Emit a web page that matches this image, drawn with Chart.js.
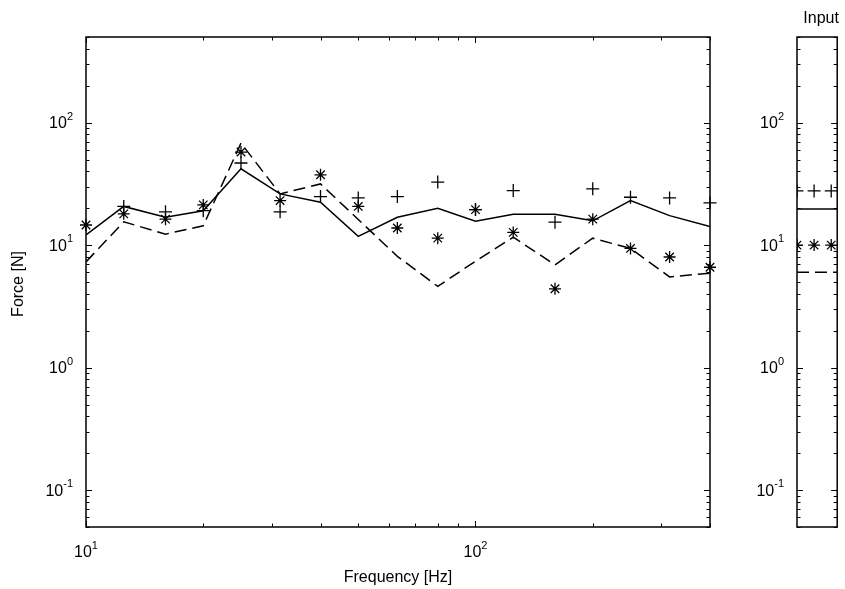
<!DOCTYPE html>
<html>
<head>
<meta charset="utf-8">
<script src="https://cdn.jsdelivr.net/npm/chart.js@4.4.1/dist/chart.umd.min.js"></script>
<style>
  html, body { margin: 0; padding: 0; background: #fff; }
  #wrap { position: relative; width: 845px; height: 589px; overflow: hidden; }
  #main { position: absolute; left: 0; top: 0; width: 760px; height: 589px; }
  #input { position: absolute; left: 720px; top: 0; width: 125px; height: 589px; }
</style>
</head>
<body>
<div id="wrap">
  <canvas id="main" width="760" height="589"></canvas>
  <canvas id="input" width="125" height="589"></canvas>
</div>
<script>
// third-octave band centres [Hz]
const freqs = [10, 12.5, 16, 20, 25, 31.5, 40, 50, 63, 80, 100, 125, 160, 200, 250, 315, 400];

// force spectra [N]
const solidForce  = [12.1, 20.7, 16.9, 19.1, 42, 26.2, 22.4, 11.8, 16.9, 20, 15.7, 17.9, 17.9, 15.8, 23.1, 17.4, 14.2];
const dashedForce = [7.3, 15.5, 12.3, 14.4, 68, 26.2, 31.6, 16.2, 8.1, 4.6, 7.4, 11.6, 6.9, 11.4, 9.4, 5.5, 5.9];
const plusForce   = [null, 20.7, 18.7, 19.1, 46.8, 18.7, 24.9, 24.3, 24.9, 32.7, 19.5, 27.9, 15.4, 28.8, 24.6, 24.3, 22.1];
const starForce   = [14.6, 18, 16.3, 21.3, 57.5, 23.1, 37.5, 20.7, 13.8, 11.4, 19.5, 12.7, 4.4, 16.3, 9.4, 8.0, 6.6];

// "Input" panel
const inputLineX = [0, 2.35];
const inputSolid = [19.7, 19.7];
const inputDashed = [6.0, 6.0];
const inputMarkX = [0, 1, 2];
const inputPlus = [27.7, 27.7, 27.7];
const inputStar = [10, 10, 10];

// axes
const xRange = [10, 400];
const yRange = [0.05, 500];
const xDecades = [10, 100];
const yDecades = [0.1, 1, 10, 100];

const FONT = '"Liberation Sans", Arial, sans-serif';
const LABEL_SIZE = 16;

const pts = (xs, ys) => xs.map((x, i) => ({ x, y: ys[i] }));

function logTicks(min, max) {
  const out = [];
  for (let e = Math.floor(Math.log10(min)); e <= Math.ceil(Math.log10(max)); e++) {
    for (let m = 1; m <= 9; m++) {
      const v = m * Math.pow(10, e);
      if (v >= min * 0.999 && v <= max * 1.001) out.push({ v, major: m === 1 });
    }
  }
  return out;
}

// "10" with a raised exponent, like the MATLAB labels
function drawPow(ctx, x, y, v, align) {
  const exp = String(Math.round(Math.log10(v)));
  ctx.font = LABEL_SIZE + 'px ' + FONT;
  const wb = ctx.measureText('10').width;
  ctx.font = Math.round(LABEL_SIZE * 0.7) + 'px ' + FONT;
  const we = ctx.measureText(exp).width;
  const x0 = align === 'right' ? x - wb - we : x - (wb + we) / 2;
  ctx.textAlign = 'left';
  ctx.textBaseline = 'middle';
  ctx.font = LABEL_SIZE + 'px ' + FONT;
  ctx.fillText('10', x0, y);
  ctx.font = Math.round(LABEL_SIZE * 0.7) + 'px ' + FONT;
  ctx.fillText(exp, x0 + wb, y - 7);
}

function boxAxes(cfg) {
  return {
    id: 'boxAxes',
    afterDraw(chart) {
      const { ctx, chartArea: a, scales } = chart;
      const xs = scales.x, ys = scales.y;
      ctx.save();
      ctx.strokeStyle = '#000';
      ctx.fillStyle = '#000';

      ctx.lineWidth = 1;
      ctx.beginPath();
      logTicks(yRange[0], yRange[1]).forEach(t => {
        const y = Math.round(ys.getPixelForValue(t.v)) + 0.5;
        const len = t.major ? 6 : 3.5;
        ctx.moveTo(a.left, y); ctx.lineTo(a.left + len, y);
        ctx.moveTo(a.right, y); ctx.lineTo(a.right - len, y);
      });
      if (cfg.xTicks) {
        logTicks(xRange[0], xRange[1]).forEach(t => {
          const x = Math.round(xs.getPixelForValue(t.v)) + 0.5;
          const len = t.major ? 6 : 3.5;
          ctx.moveTo(x, a.bottom); ctx.lineTo(x, a.bottom - len);
          ctx.moveTo(x, a.top); ctx.lineTo(x, a.top + len);
        });
      }
      ctx.stroke();

      ctx.lineWidth = 1.5;
      ctx.strokeRect(a.left, a.top, a.right - a.left, a.bottom - a.top);

      yDecades.forEach(v => drawPow(ctx, a.left - 13, ys.getPixelForValue(v) + 1, v, 'right'));
      if (cfg.xTicks) {
        xDecades.forEach(v => drawPow(ctx, xs.getPixelForValue(v), a.bottom + 26, v, 'center'));
      }

      ctx.font = LABEL_SIZE + 'px ' + FONT;
      ctx.textAlign = 'center';
      ctx.textBaseline = 'middle';
      if (cfg.xTitle) ctx.fillText(cfg.xTitle, (a.left + a.right) / 2, a.bottom + 51);
      if (cfg.title) ctx.fillText(cfg.title, (a.left + a.right) / 2 + 4, a.top - 18);
      if (cfg.yTitle) {
        ctx.translate(19, (a.top + a.bottom) / 2 + 2);
        ctx.rotate(-Math.PI / 2);
        ctx.fillText(cfg.yTitle, 0, 0);
      }
      ctx.restore();
    }
  };
}

const lineSet = (data, dash) => ({
  data, showLine: true, borderColor: '#000', borderWidth: 1.5,
  borderDash: dash, pointRadius: 0, tension: 0
});
const markSet = (data, style, r, clip) => ({
  data, showLine: false, pointStyle: style, pointRadius: r,
  borderColor: '#000', backgroundColor: '#000', pointBorderWidth: 1.3, clip
});

const common = {
  responsive: false,
  animation: false,
  plugins: { legend: { display: false }, tooltip: { enabled: false } },
  events: []
};

new Chart(document.getElementById('main'), {
  type: 'scatter',
  data: {
    datasets: [
      lineSet(pts(freqs, solidForce), []),
      lineSet(pts(freqs, dashedForce), [12, 6]),
      markSet(pts(freqs, plusForce), 'cross', 6.5, false),
      markSet(pts(freqs, starForce), 'star', 6, false)
    ]
  },
  options: {
    ...common,
    layout: { padding: { left: 86, right: 50, top: 37, bottom: 62 } },
    scales: {
      x: { type: 'logarithmic', min: xRange[0], max: xRange[1], display: false },
      y: { type: 'logarithmic', min: yRange[0], max: yRange[1], display: false }
    }
  },
  plugins: [boxAxes({ xTicks: true, xTitle: 'Frequency [Hz]', yTitle: 'Force [N]' })]
});

new Chart(document.getElementById('input'), {
  type: 'scatter',
  data: {
    datasets: [
      lineSet(pts(inputLineX, inputSolid), []),
      lineSet(pts(inputLineX, inputDashed), [12, 6]),
      markSet(pts(inputMarkX, inputPlus), 'cross', 6.5),
      markSet(pts(inputMarkX, inputStar), 'star', 6)
    ]
  },
  options: {
    ...common,
    layout: { padding: { left: 77, right: 2, top: 37, bottom: 62 } },
    scales: {
      x: { type: 'linear', min: inputLineX[0], max: inputLineX[1], display: false },
      y: { type: 'logarithmic', min: yRange[0], max: yRange[1], display: false }
    }
  },
  plugins: [boxAxes({ xTicks: false, title: 'Input' })]
});
</script>
</body>
</html>
